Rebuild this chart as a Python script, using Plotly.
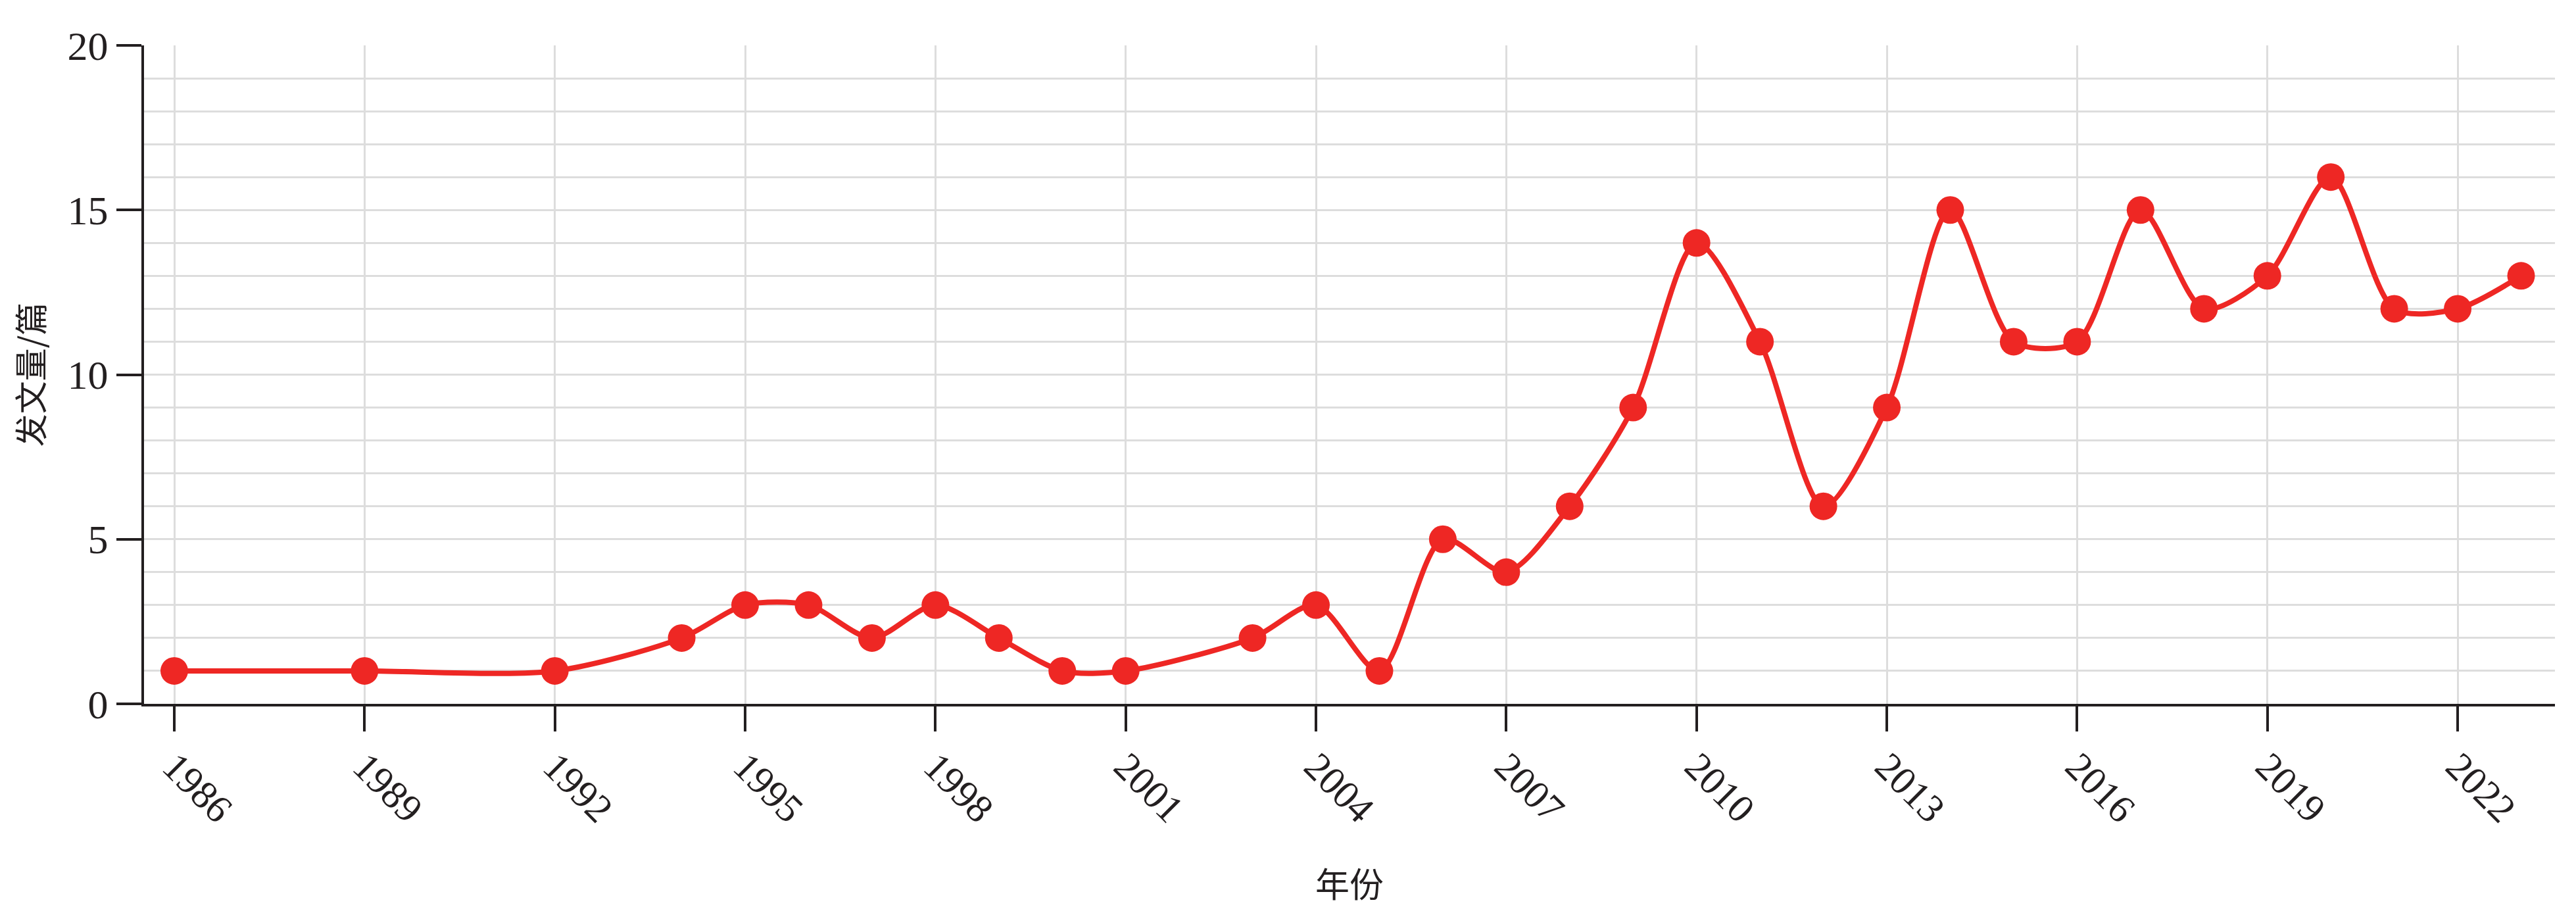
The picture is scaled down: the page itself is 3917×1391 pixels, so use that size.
import plotly.graph_objects as go

years = [1986, 1989, 1992, 1994, 1995, 1996, 1997, 1998, 1999, 2000, 2001, 2003, 2004,
         2005, 2006, 2007, 2008, 2009, 2010, 2011, 2012, 2013, 2014, 2015, 2016, 2017,
         2018, 2019, 2020, 2021, 2022, 2023]
counts = [1, 1, 1, 2, 3, 3, 2, 3, 2, 1, 1, 2, 3,
          1, 5, 4, 6, 9, 14, 11, 6, 9, 15, 11, 11, 15,
          12, 13, 16, 12, 12, 13]
x_ticks = list(range(1986, 2023, 3))
y_ticks = [0, 5, 10, 15, 20]

RED = "#ee2724"
GRID = "#dddddd"
AX = "#231f20"
SERIF = "Liberation Serif, Times New Roman, serif"
CJK = "Noto Sans CJK SC"

fig = go.Figure(go.Scatter(
    x=years, y=counts, mode="lines+markers",
    line=dict(color=RED, width=8, shape="spline", smoothing=0.8),
    marker=dict(color=RED, size=42),
    cliponaxis=False,
))

fig.update_layout(
    width=3917, height=1391,
    margin=dict(l=211, r=40, t=61, b=329),
    plot_bgcolor="white", paper_bgcolor="white",
    showlegend=False,
    font=dict(family=SERIF, color=AX, size=60),
)
fig.update_xaxes(
    range=[1985.523, 2023.534], tickvals=x_ticks, ticktext=[str(v) for v in x_ticks],
    tickangle=45, ticks="outside", ticklen=38, tickwidth=4, tickcolor=AX,
    showline=True, linewidth=4, linecolor=AX,
    showgrid=True, gridcolor=GRID, gridwidth=3, zeroline=False,
    tickfont=dict(family=SERIF, size=60, color=AX),
    ticklabelstandoff=-6, automargin=False,
    title=dict(text="年份", font=dict(family=CJK, size=52, color=AX), standoff=66),
)
fig.update_yaxes(
    range=[0, 20], tickvals=y_ticks, ticks="outside", ticklen=38, tickwidth=4, tickcolor=AX,
    showline=True, linewidth=4, linecolor=AX,
    showgrid=True, gridcolor=GRID, gridwidth=3, zeroline=False,
    minor=dict(dtick=1, showgrid=True, gridcolor=GRID, gridwidth=3, ticks=""),
    tickfont=dict(family=SERIF, size=62, color=AX), automargin=False,
    title=dict(text="发文量/篇", font=dict(family=CJK, size=50, color=AX), standoff=30),
)

fig.write_html("out.html")
